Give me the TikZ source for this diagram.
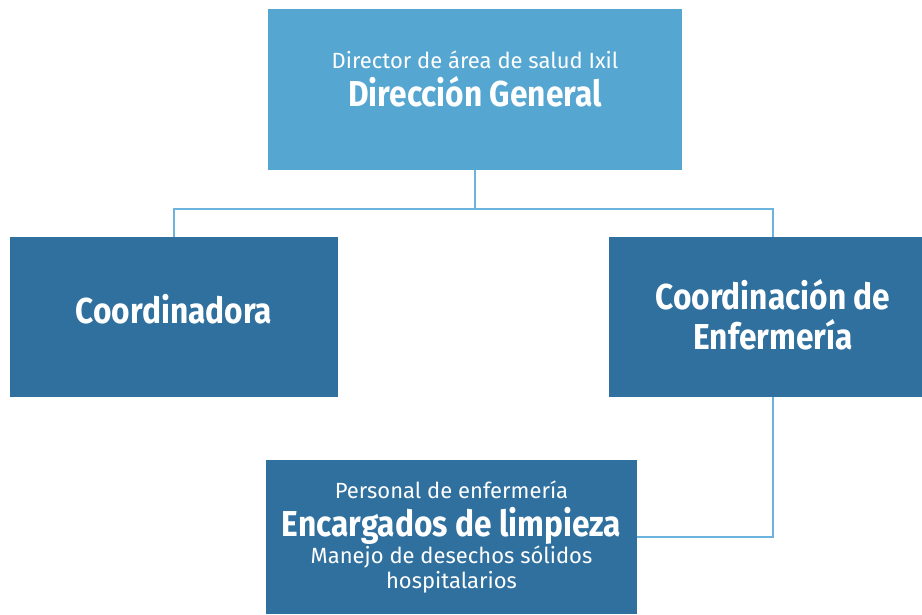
\documentclass[tikz,border=0pt]{standalone}
\usepackage{fontspec}
\setmainfont{Fira Sans}
\newfontfamily\headfont[FakeStretch=0.88]{Fira Sans}
\newfontfamily\notefont{Fira Sans}
\definecolor{lightbox}{HTML}{56A6D2}
\definecolor{darkbox}{HTML}{30709E}
\definecolor{linkline}{HTML}{6CB3DD}
% struts fix the distance between baselines
\newcommand{\tightlines}{\baselineskip=0pt\relax\lineskip=0pt\relax\lineskiplimit=0pt\relax}
\newcommand{\headtxt}[1]{{\headfont\bfseries\fontsize{36}{40}\selectfont\rule[-8pt]{0pt}{40pt}#1}}
\newcommand{\notetxt}[1]{{\notefont\fontsize{22}{26}\selectfont\rule[-6pt]{0pt}{25pt}#1}}

\begin{document}
\begin{tikzpicture}[x=1pt,y=-1pt, box/.style={rectangle,fill=#1,text=white,align=center,inner sep=0pt,font=\tightlines},
  link/.style={draw=linkline,line width=1.5pt}]
\clip (0,0) rectangle (922,614);
\node[box=lightbox,minimum width=414pt,minimum height=161pt] (dir) at (475,89.5) {};
\node[box=lightbox,fill=none] (dirtext) at (475,81.5) {\notetxt{Director de área de salud Ixil}\\ \headtxt{Dirección General}};
\node[box=darkbox,minimum width=328pt,minimum height=160pt,text depth=20pt] (coord) at (174,317) {\headtxt{Coordinadora}};
\node[box=darkbox,minimum width=328pt,minimum height=160pt] (enf) at (773,317) {\headtxt{Coordinación de}\\ \headtxt{Enfermería}};
\node[box=darkbox,minimum width=371pt,minimum height=154pt] (limp) at (451.5,537) {\notetxt{Personal de enfermería}\\ \headtxt{Encargados de limpieza}\\ \notetxt{Manejo de desechos sólidos}\\ \notetxt{hospitalarios}};
% connectors
\path (dir.south) ++(0,39) coordinate (split);
\draw[link] (dir.south) -- (split) (coord.north) -- (coord.north |- split) -- (enf.north |- split) -- (enf.north);
\draw[link] (enf.south) |- (limp.east);
\end{tikzpicture}
\end{document}
